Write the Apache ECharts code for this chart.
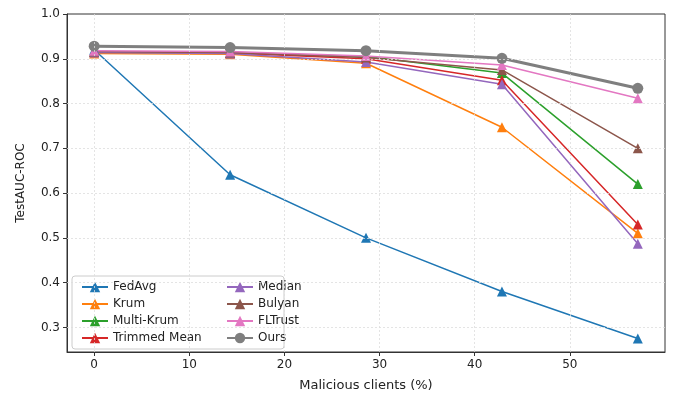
<!DOCTYPE html>
<html>
<head>
<meta charset="utf-8">
<script src="https://cdn.jsdelivr.net/npm/echarts@6/dist/echarts.min.js"></script>
<style>
  html, body { margin: 0; padding: 0; background: #fff; }
  #chart { width: 673px; height: 397px; }
</style>
</head>
<body>
<div id="chart"></div>
<script>
// malicious client share (%) on the x axis
const clients = [0, 14.29, 28.57, 42.86, 57.14];
const fedAvg = [0.92, 0.641, 0.50, 0.38, 0.275];
const krum = [0.912, 0.91, 0.89, 0.747, 0.51];
const multiKrum = [0.915, 0.913, 0.905, 0.868, 0.62];
const trimmedMean = [0.916, 0.913, 0.90, 0.852, 0.53];
const median = [0.914, 0.912, 0.893, 0.843, 0.487];
const bulyan = [0.916, 0.914, 0.903, 0.875, 0.70];
const flTrust = [0.918, 0.916, 0.906, 0.886, 0.812];
const ours = [0.928, 0.925, 0.918, 0.901, 0.834];

const xTicks = [0, 10, 20, 30, 40, 50];
const yTicks = [0.3, 0.4, 0.5, 0.6, 0.7, 0.8, 0.9, 1.0];

const names = ['FedAvg', 'Krum', 'Multi-Krum', 'Trimmed Mean', 'Median', 'Bulyan', 'FLTrust', 'Ours'];
const values = [fedAvg, krum, multiKrum, trimmedMean, median, bulyan, flTrust, ours];
const colors = ['#1f77b4', '#ff7f0e', '#2ca02c', '#d62728', '#9467bd', '#8c564b', '#e377c2', '#7f7f7f'];

const font = 'DejaVu Sans';

const series = names.map((name, i) => {
  const isOurs = name === 'Ours';
  return {
    name: name,
    type: 'line',
    data: clients.map((x, j) => [x, values[i][j]]),
    symbol: isOurs ? 'circle' : 'triangle',
    symbolSize: isOurs ? 11 : 10,
    lineStyle: { width: isOurs ? 3 : 1.5, color: colors[i] },
    itemStyle: { color: colors[i] },
    z: 3,
    emphasis: { disabled: true }
  };
});

// dotted grid lines at the tick positions (top one is hidden by the frame)
series.push({
  type: 'line',
  data: [],
  silent: true,
  markLine: {
    silent: true,
    symbol: 'none',
    label: { show: false },
    lineStyle: { color: '#dddddd', type: [2, 2], width: 0.8 },
    data: xTicks.map(v => ({ xAxis: v })).concat(yTicks.filter(v => v < 1).map(v => ({ yAxis: v })))
  },
  z: 1
});

const legendText = { fontFamily: font, fontSize: 12, color: '#222' };
const legendBase = {
  orient: 'vertical',
  top: 276,
  itemWidth: 26, itemHeight: 13, itemGap: 5,
  itemStyle: { borderWidth: 0 },
  textStyle: legendText,
  z: 5
};

const myChart = echarts.init(document.getElementById('chart'));
const option = {
  animation: false,
  color: colors,
  grid: {
    left: 67, right: 8, top: 14, bottom: 42,
    show: true, borderColor: '#333', borderWidth: 1
  },
  xAxis: {
    type: 'value',
    min: -2.857,
    max: 60,
    name: 'Malicious clients (%)',
    nameLocation: 'middle',
    nameGap: 27,
    nameTextStyle: { fontFamily: font, fontSize: 13, color: '#222' },
    axisLine: { onZero: false, lineStyle: { color: '#333' } },
    axisTick: { customValues: xTicks, length: 4, lineStyle: { color: '#333' } },
    axisLabel: { customValues: xTicks, fontFamily: font, fontSize: 12, color: '#222', margin: 7 },
    splitLine: { show: false }
  },
  yAxis: {
    type: 'value',
    min: 0.245,
    max: 1.0,
    name: 'TestAUC-ROC',
    nameLocation: 'middle',
    nameGap: 40,
    nameTextStyle: { fontFamily: font, fontSize: 12, color: '#222' },
    axisLine: { show: true, onZero: false, lineStyle: { color: '#333' } },
    axisTick: { show: true, customValues: yTicks, length: 4, lineStyle: { color: '#333' } },
    axisLabel: {
      customValues: yTicks, fontFamily: font, fontSize: 12, color: '#222', margin: 7,
      formatter: v => v.toFixed(1)
    },
    splitLine: { show: false }
  },
  graphic: [{
    type: 'rect',
    shape: { x: 72, y: 276, width: 212, height: 73, r: 3 },
    style: { fill: 'rgba(255,255,255,0.85)', stroke: '#cccccc', lineWidth: 1 },
    z: 4
  }],
  legend: [
    Object.assign({ data: names.slice(0, 4), left: 76 }, legendBase),
    Object.assign({ data: names.slice(4), left: 221 }, legendBase)
  ],
  series: series
};
myChart.setOption(option);
window.onresize = () => { myChart.resize(); };
</script>
</body>
</html>
